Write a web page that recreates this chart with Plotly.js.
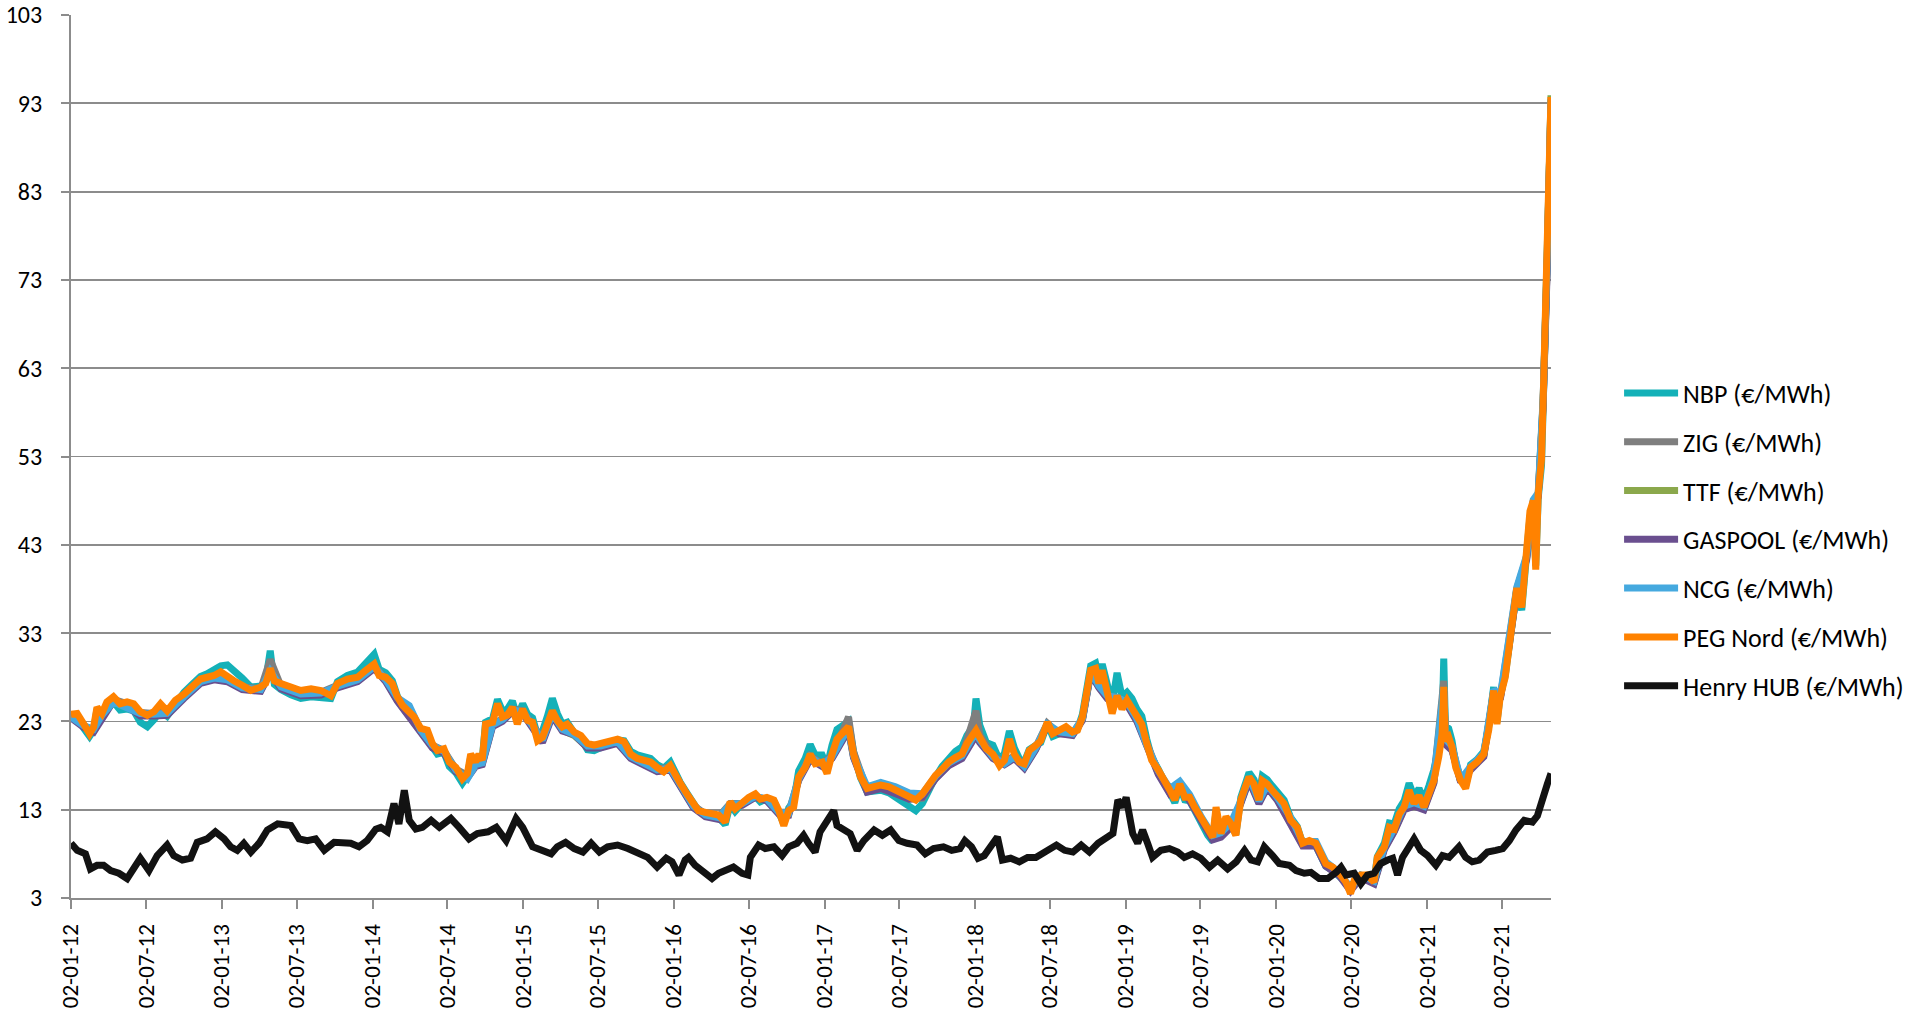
<!DOCTYPE html>
<html>
<head>
<meta charset="utf-8">
<script src="https://cdn.plot.ly/plotly-3.0.1.min.js"></script>
<style>
html,body{margin:0;padding:0;background:#fff;}
#chart{width:1914px;height:1020px;}
</style>
</head>
<body>
<div id="chart"></div>
<script>
// ---- Data ----
const dates = [
"2012-01-02","2012-01-17","2012-02-02","2012-02-16","2012-02-26","2012-03-05","2012-03-17","2012-03-29","2012-04-14","2012-04-30",
"2012-05-17","2012-06-02","2012-06-18","2012-07-05","2012-07-21","2012-08-06","2012-08-22","2012-09-11","2012-10-02","2012-10-22",
"2012-11-11","2012-11-27","2012-12-14","2012-12-30","2013-01-15","2013-01-31","2013-02-20","2013-03-13","2013-04-06","2013-04-18",
"2013-04-29","2013-05-09","2013-05-25","2013-06-18","2013-07-12","2013-08-06","2013-08-30","2013-09-23","2013-10-09","2013-11-02",
"2013-11-27","2013-12-17","2014-01-06","2014-01-18","2014-02-03","2014-02-19","2014-03-03","2014-03-16","2014-04-01","2014-04-13",
"2014-04-29","2014-05-15","2014-05-27","2014-06-08","2014-06-24","2014-07-07","2014-07-23","2014-08-08","2014-08-20","2014-08-28",
"2014-09-09","2014-09-17","2014-09-25","2014-10-03","2014-10-20","2014-11-01","2014-11-13","2014-11-25","2014-12-07","2014-12-19",
"2015-01-01","2015-01-13","2015-01-25","2015-02-06","2015-02-18","2015-03-02","2015-03-14","2015-03-26","2015-04-07","2015-04-19",
"2015-05-06","2015-05-22","2015-06-07","2015-06-23","2015-07-09","2015-07-30","2015-08-19","2015-09-04","2015-09-20","2015-10-06",
"2015-10-22","2015-11-07","2015-11-23","2015-12-09","2015-12-25","2016-01-06","2016-01-18","2016-02-03","2016-02-19","2016-03-02",
"2016-03-19","2016-04-04","2016-04-20","2016-05-06","2016-05-18","2016-05-30","2016-06-16","2016-07-02","2016-07-18","2016-07-30",
"2016-08-15","2016-09-01","2016-09-13","2016-09-25","2016-10-07","2016-10-19","2016-10-31","2016-11-16","2016-11-28","2016-12-10",
"2016-12-27","2017-01-08","2017-01-20","2017-02-01","2017-02-17","2017-03-01","2017-03-13","2017-03-30","2017-04-15","2017-05-02",
"2017-05-18","2017-06-07","2017-06-23","2017-07-10","2017-07-26","2017-08-11","2017-08-27","2017-09-12","2017-09-28","2017-10-14",
"2017-10-30","2017-11-15","2017-12-01","2017-12-13","2017-12-29","2018-01-04","2018-01-13","2018-01-29","2018-02-14","2018-03-02",
"2018-03-14","2018-03-26","2018-04-07","2018-04-19","2018-05-01","2018-05-13","2018-05-29","2018-06-10","2018-06-26","2018-07-09",
"2018-07-25","2018-08-10","2018-08-26","2018-09-07","2018-09-19","2018-10-01","2018-10-09","2018-10-21","2018-10-29","2018-11-06",
"2018-11-18","2018-11-30","2018-12-12","2018-12-24","2019-01-05","2019-01-17","2019-01-29","2019-02-10","2019-02-22","2019-03-06",
"2019-03-22","2019-04-07","2019-04-19","2019-05-01","2019-05-13","2019-05-25","2019-06-06","2019-06-18","2019-07-04","2019-07-20",
"2019-08-01","2019-08-09","2019-08-21","2019-09-02","2019-09-14","2019-09-26","2019-10-08","2019-10-16","2019-10-28","2019-11-09",
"2019-11-21","2019-11-29","2019-12-11","2019-12-23","2020-01-04","2020-01-21","2020-02-06","2020-02-22","2020-03-06","2020-03-22",
"2020-04-07","2020-04-19","2020-05-01","2020-05-18","2020-06-03","2020-06-19","2020-06-30","2020-07-09","2020-07-25","2020-08-10",
"2020-08-26","2020-09-03","2020-09-20","2020-10-02","2020-10-14","2020-10-26","2020-11-07","2020-11-19","2020-12-01","2020-12-13",
"2020-12-25","2021-01-06","2021-01-18","2021-01-30","2021-02-07","2021-02-11","2021-02-15","2021-02-23","2021-03-03","2021-03-12",
"2021-03-24","2021-04-05","2021-04-17","2021-05-03","2021-05-19","2021-05-31","2021-06-12","2021-06-20","2021-06-28","2021-07-10",
"2021-07-18","2021-07-26","2021-08-07","2021-08-19","2021-08-31","2021-09-08","2021-09-16","2021-09-22","2021-09-28","2021-10-06",
"2021-10-10","2021-10-15","2021-10-20","2021-10-29"
];

const pegNord = [
23.8,23.9,22.7,21.6,22.4,24.6,23.9,25.2,25.8,25.0,
25.2,25.0,24.1,23.7,24.1,25.0,24.2,25.4,26.1,26.9,
27.8,28.0,28.2,28.6,28.0,27.6,27.1,26.5,26.9,27.3,
29.0,27.6,27.3,26.9,26.5,26.7,26.5,25.9,27.3,27.8,
28.0,28.8,29.5,28.2,28.0,27.3,25.8,24.8,24.1,23.5,
22.2,22.0,20.5,19.7,19.9,18.4,17.8,16.5,17.1,19.3,
18.4,19.3,18.6,22.7,22.9,25.0,23.5,23.7,24.6,22.7,
24.4,23.1,22.9,20.8,21.2,22.7,24.2,23.1,22.4,22.7,
21.8,21.4,20.5,20.3,20.5,20.8,21.0,20.7,19.3,18.8,
18.6,18.4,17.8,17.3,18.0,16.8,16.0,14.8,13.7,12.9,
12.7,12.5,12.4,11.6,13.9,13.1,13.9,14.4,14.8,14.2,
14.4,14.1,12.9,11.2,12.9,13.3,16.7,17.8,19.3,18.2,
18.4,17.1,19.3,21.0,21.8,22.4,19.3,16.7,15.4,15.6,
15.8,15.6,15.2,14.8,14.6,14.1,14.8,15.9,16.9,17.6,
18.4,18.9,19.3,20.5,21.4,22.0,21.2,19.9,19.3,18.0,
18.6,21.0,19.3,18.4,18.2,19.7,20.3,20.8,22.9,21.6,
22.0,22.4,21.8,22.0,23.5,26.5,28.8,29.0,27.3,28.8,
26.1,23.9,25.9,24.4,25.4,24.6,23.5,22.7,20.5,18.6,
17.5,16.3,15.2,14.1,15.9,14.4,14.4,13.3,12.0,10.7,
9.9,13.3,10.3,12.2,11.4,10.1,14.1,15.2,16.7,15.9,
14.1,16.3,15.9,15.2,14.5,13.7,11.8,11.0,9.2,9.5,
9.2,8.2,6.9,6.5,5.8,4.8,3.5,5.0,5.6,5.6,
4.8,7.6,8.8,11.0,10.8,12.5,13.3,15.2,13.7,14.6,
13.3,14.8,16.3,19.0,21.6,26.9,20.8,21.2,20.1,17.8,
16.3,15.4,17.8,18.4,19.3,22.0,26.5,22.7,25.8,28.0,
31.4,34.4,38.1,35.9,41.7,46.8,48.0,40.2,48.8,52.7,
59.4,70.7,75.5,93.7
];

const nbp = [
23.4,23.6,22.2,21.3,22.0,24.4,23.4,24.6,25.2,24.3,
24.4,24.2,22.9,22.4,23.2,24.2,23.6,25.1,26.3,27.2,
28.1,28.4,28.8,29.3,29.4,28.8,27.9,26.9,27.0,27.6,
31.0,27.2,26.6,26.0,25.6,25.8,25.7,25.6,27.5,28.2,
28.6,29.6,30.6,28.9,28.5,27.6,25.9,24.7,24.3,23.3,
22.0,21.7,20.1,19.3,19.5,17.9,17.2,16.0,16.8,19.0,
18.2,19.2,18.7,22.9,23.3,25.5,24.2,24.4,25.3,23.5,
25.0,23.8,23.4,21.4,21.9,23.6,25.6,23.9,22.7,22.9,
21.7,21.1,19.8,19.7,20.1,20.6,20.9,20.8,19.6,19.2,
19.0,18.8,18.1,17.7,18.4,17.0,16.1,14.9,13.8,12.9,
12.6,12.4,12.1,11.3,13.6,12.8,13.7,14.2,14.5,13.9,
14.2,14.0,12.9,11.4,13.2,13.9,17.4,18.8,20.4,19.2,
19.2,17.9,20.3,22.1,22.6,23.0,19.6,16.6,15.0,15.1,
15.2,14.9,14.4,13.8,13.5,12.9,13.7,15.4,16.7,17.9,
18.9,19.6,20.1,21.4,22.5,25.6,22.6,20.6,20.3,18.6,
19.4,21.9,20.0,18.8,18.4,19.8,20.3,20.6,22.7,21.3,
21.6,22.2,21.7,22.1,23.8,27.0,29.3,29.6,28.0,29.5,
27.0,25.0,28.5,25.8,26.3,25.6,24.4,23.6,21.0,18.9,
17.6,16.2,15.0,13.8,15.6,14.1,14.0,12.9,11.6,10.1,
9.4,12.9,9.9,11.9,11.3,10.2,14.4,15.6,17.2,16.4,
14.6,16.8,16.4,15.7,15.0,14.1,12.1,11.1,9.1,9.3,
8.9,7.9,6.6,6.1,5.4,4.6,4.3,4.8,5.3,5.4,
4.9,7.7,9.2,11.5,11.4,13.1,14.0,16.0,14.5,15.4,
14.1,15.7,17.5,20.2,22.8,30.1,22.5,22.2,20.8,18.2,
16.6,15.7,18.1,18.7,19.6,22.4,26.9,22.9,26.0,28.2,
31.3,34.2,37.8,35.6,41.3,46.2,47.5,40.6,48.3,52.0,
58.6,69.5,74.8,92.8
];

// the other continental hubs, read at every second date (they sit under PEG Nord)
const hubDates = [
"2012-01-02","2012-02-02","2012-02-26","2012-03-17","2012-04-14","2012-05-17","2012-06-18","2012-07-21","2012-08-22","2012-10-02",
"2012-11-11","2012-12-14","2013-01-15","2013-02-20","2013-04-06","2013-04-29","2013-05-25","2013-07-12","2013-08-30","2013-10-09",
"2013-11-27","2014-01-06","2014-02-03","2014-03-03","2014-04-01","2014-04-29","2014-05-27","2014-06-24","2014-07-23","2014-08-20",
"2014-09-09","2014-09-25","2014-10-20","2014-11-13","2014-12-07","2015-01-01","2015-01-25","2015-02-18","2015-03-14","2015-04-07",
"2015-05-06","2015-06-07","2015-07-09","2015-08-19","2015-09-20","2015-10-22","2015-11-23","2015-12-25","2016-01-18","2016-02-19",
"2016-03-19","2016-04-20","2016-05-18","2016-06-16","2016-07-18","2016-08-15","2016-09-13","2016-10-07","2016-10-31","2016-11-28",
"2016-12-27","2017-01-20","2017-03-01","2017-03-13","2017-04-15","2017-05-18","2017-06-23","2017-07-26","2017-08-27","2017-09-28",
"2017-10-30","2017-12-01","2018-01-04","2018-01-13","2018-02-14","2018-03-14","2018-04-07","2018-05-01","2018-05-29","2018-06-26",
"2018-07-25","2018-08-26","2018-09-19","2018-10-09","2018-10-29","2018-11-18","2018-12-12","2019-01-05","2019-01-29","2019-02-22",
"2019-03-22","2019-04-19","2019-05-13","2019-06-06","2019-07-04","2019-08-01","2019-08-21","2019-09-14","2019-10-08","2019-10-28",
"2019-11-21","2019-12-11","2020-01-04","2020-02-06","2020-03-06","2020-04-07","2020-05-01","2020-06-03","2020-06-30","2020-07-25",
"2020-08-26","2020-09-20","2020-10-14","2020-11-07","2020-12-01","2020-12-25","2021-01-18","2021-02-11","2021-02-15","2021-03-03",
"2021-03-24","2021-04-17","2021-05-19","2021-06-12","2021-06-28","2021-07-18","2021-08-07","2021-08-31","2021-09-16","2021-09-28",
"2021-10-10","2021-10-20","2021-10-29"
];

const zig = [
23.6,22.5,22.0,23.6,25.5,25.0,24.0,23.9,24.0,25.9,
27.6,28.0,27.8,26.9,26.7,30.0,27.0,26.2,26.3,27.1,
27.8,29.3,27.8,25.6,23.9,22.0,20.3,19.7,17.6,16.9,
18.2,18.4,22.7,23.3,24.4,24.2,22.7,21.0,24.0,22.2,
21.6,20.3,20.3,20.8,19.1,18.4,17.6,17.8,15.8,13.5,
12.5,12.2,13.7,13.7,14.4,14.2,12.7,12.7,16.5,19.1,
18.2,19.1,23.5,19.6,15.2,15.6,15.0,14.2,14.3,16.6,
18.1,19.1,24.2,21.5,19.1,18.4,19.1,18.0,20.1,22.8,
21.6,21.6,23.3,28.6,27.1,25.9,25.7,25.2,23.3,20.3,
17.3,15.0,15.7,14.2,11.8,9.8,10.1,11.2,13.9,16.5,
13.9,15.7,14.3,11.7,9.1,9.1,6.8,5.7,4.0,5.5,
4.8,8.7,10.8,13.3,13.7,13.3,16.4,27.6,21.4,20.2,
16.2,17.7,19.2,26.4,25.7,31.3,38.0,41.6,47.9,48.7,
59.3,75.4,93.4
];

const ttf = [
23.5,22.4,21.9,23.5,25.3,24.8,23.7,23.7,23.8,25.7,
27.4,27.8,27.6,26.7,26.5,28.6,26.8,26.0,26.1,26.9,
27.6,29.1,27.6,25.4,23.7,21.8,20.1,19.5,17.4,16.7,
18.0,18.2,22.5,23.1,24.2,24.0,22.5,20.8,23.8,22.0,
21.4,20.1,20.1,20.6,18.9,18.2,17.4,17.6,15.6,13.3,
12.3,12.0,13.5,13.6,14.5,14.1,12.6,12.5,16.4,18.9,
18.0,18.9,22.2,19.0,15.1,15.5,14.9,14.3,14.5,16.6,
18.1,18.9,21.6,20.8,18.9,18.2,18.9,17.8,19.9,22.6,
21.7,21.5,23.2,28.5,26.9,25.7,25.5,25.0,23.1,20.1,
17.1,14.9,15.6,14.1,11.7,9.7,10.0,11.1,13.8,16.4,
13.8,15.6,14.2,11.6,9.0,9.0,6.7,5.6,3.9,5.4,
4.7,8.6,10.6,13.1,13.5,13.1,16.1,26.6,20.5,19.8,
16.2,17.6,19.1,26.3,25.6,31.2,37.9,41.5,47.8,48.6,
59.2,75.3,93.9
];

const gaspool = [
23.4,22.3,21.8,23.4,25.3,24.7,23.6,23.6,23.7,25.6,
27.3,27.7,27.5,26.6,26.4,28.5,26.7,25.9,26.0,26.8,
27.5,29.0,27.5,25.3,23.6,21.7,20.0,19.4,17.3,16.6,
17.9,18.1,22.4,23.0,24.1,23.9,22.2,20.6,23.6,21.9,
21.5,20.0,20.0,20.5,18.8,18.1,17.3,17.5,15.5,13.2,
12.2,11.9,13.4,13.5,14.4,14.0,12.5,12.4,16.3,18.7,
17.9,18.8,22.0,18.9,15.0,15.4,14.8,14.2,14.4,16.5,
18.0,18.8,21.4,20.6,18.8,18.1,18.8,17.7,19.8,22.6,
21.6,21.4,23.1,28.4,26.8,25.6,25.4,24.9,23.0,20.0,
17.0,14.8,15.5,14.0,11.6,9.6,9.9,11.0,13.7,16.3,
13.7,15.5,14.1,11.5,8.9,8.9,6.6,5.5,3.8,5.3,
4.6,8.5,10.5,13.0,13.4,13.0,16.0,26.4,20.4,19.7,
16.1,17.5,19.0,26.2,25.5,31.1,37.7,41.3,47.6,48.4,
58.9,74.6,92.8
];

const ncg = [
23.5,22.5,22.1,23.7,25.2,24.6,23.9,23.8,23.9,25.8,
27.5,27.9,27.7,26.8,26.6,28.7,26.9,26.1,26.2,27.0,
27.7,29.2,27.7,25.7,24.8,22.0,20.3,19.6,17.5,16.5,
18.1,18.3,22.6,23.2,24.3,24.1,22.6,20.9,23.9,22.1,
21.5,20.2,20.2,20.7,19.0,18.3,17.5,17.7,15.7,13.4,
12.4,12.1,13.6,13.7,14.5,14.2,12.7,12.6,16.5,19.0,
18.1,19.0,22.3,19.1,15.6,16.1,15.6,14.9,14.8,16.8,
18.3,19.1,21.8,20.9,19.0,18.2,19.0,17.9,20.0,22.7,
21.8,21.6,23.3,28.6,27.0,25.9,25.7,25.2,23.3,20.3,
17.4,15.4,16.2,14.7,12.2,10.1,10.4,11.5,14.0,16.7,
14.0,15.8,14.4,12.1,9.4,9.4,7.1,5.9,4.1,5.6,
4.9,8.8,10.9,13.4,13.8,13.4,16.5,26.8,21.0,20.2,
16.4,17.9,19.4,26.6,25.9,31.5,38.2,41.8,48.1,48.9,
59.6,76.0,93.5
];

const hhDates = [
"2012-01-02","2012-01-17","2012-02-06","2012-02-18","2012-03-05","2012-03-21","2012-04-07","2012-04-27","2012-05-17","2012-06-02",
"2012-06-18","2012-07-09","2012-07-29","2012-08-22","2012-09-07","2012-09-28","2012-10-18","2012-11-03","2012-11-27","2012-12-17",
"2013-01-07","2013-01-23","2013-02-08","2013-02-24","2013-03-13","2013-04-02","2013-04-22","2013-05-17","2013-06-02","2013-06-18",
"2013-07-08","2013-07-28","2013-08-17","2013-09-07","2013-10-01","2013-10-21","2013-11-10","2013-11-30","2013-12-20","2014-01-10",
"2014-01-22","2014-02-07","2014-02-23","2014-03-07","2014-03-20","2014-04-01","2014-04-17","2014-05-03","2014-05-24","2014-06-13",
"2014-07-11","2014-07-31","2014-08-24","2014-09-13","2014-10-09","2014-10-29","2014-11-22","2014-12-16","2015-01-01","2015-01-25",
"2015-02-18","2015-03-11","2015-03-26","2015-04-15","2015-05-06","2015-05-27","2015-06-16","2015-07-06","2015-07-26","2015-08-19",
"2015-09-13","2015-10-06","2015-10-31","2015-11-23","2015-12-15","2015-12-29","2016-01-15","2016-01-30","2016-02-07","2016-02-23",
"2016-03-15","2016-04-04","2016-04-20","2016-05-10","2016-05-26","2016-06-16","2016-06-30","2016-07-06","2016-07-26","2016-08-11",
"2016-09-01","2016-09-21","2016-10-07","2016-10-27","2016-11-12","2016-11-24","2016-12-10","2016-12-22","2017-01-08","2017-01-24",
"2017-02-01","2017-02-17","2017-03-05","2017-03-22","2017-04-07","2017-05-02","2017-05-22","2017-06-11","2017-07-01","2017-07-21",
"2017-08-14","2017-09-03","2017-09-23","2017-10-17","2017-11-06","2017-11-26","2017-12-08","2017-12-24","2018-01-09","2018-01-24",
"2018-02-09","2018-02-25","2018-03-09","2018-03-29","2018-04-19","2018-05-09","2018-05-29","2018-06-18","2018-07-18","2018-08-07",
"2018-08-27","2018-09-16","2018-10-06","2018-10-27","2018-11-12","2018-12-02","2018-12-14","2018-12-26","2019-01-03","2019-01-11",
"2019-01-19","2019-01-31","2019-02-12","2019-02-24","2019-03-08","2019-03-28","2019-04-18","2019-05-08","2019-05-24","2019-06-13",
"2019-07-03","2019-07-24","2019-08-13","2019-09-06","2019-09-27","2019-10-17","2019-11-02","2019-11-18","2019-12-04","2019-12-24",
"2020-01-09","2020-02-03","2020-02-19","2020-03-10","2020-03-26","2020-04-15","2020-05-06","2020-05-26","2020-06-07","2020-06-19",
"2020-07-09","2020-07-25","2020-08-10","2020-08-26","2020-09-11","2020-09-28","2020-10-10","2020-10-22","2020-11-03","2020-11-19",
"2020-12-01","2020-12-17","2021-01-03","2021-01-23","2021-02-08","2021-02-24","2021-03-20","2021-04-05","2021-04-21","2021-05-08",
"2021-05-28","2021-06-17","2021-07-04","2021-07-20","2021-08-05","2021-08-25","2021-09-14","2021-09-26","2021-10-04","2021-10-12",
"2021-10-20","2021-10-29"
];

const henryHub = [
9.2,8.4,8.0,6.3,6.7,6.7,6.1,5.8,5.2,6.5,
7.5,6.1,7.8,9.0,7.8,7.3,7.5,9.3,9.7,10.5,
9.7,8.8,8.4,9.2,8.2,9.2,10.7,11.4,11.2,11.2,
9.7,9.5,9.7,8.4,9.3,9.3,9.2,8.8,9.5,10.8,
11.0,10.5,13.7,11.4,15.2,11.8,10.8,11.0,11.8,11.0,
12.0,11.0,9.7,10.3,10.5,11.0,9.5,12.0,11.0,8.8,
8.4,8.0,8.8,9.3,8.6,8.2,9.2,8.2,8.8,9.0,
8.6,8.2,7.6,6.5,7.5,7.1,5.6,7.3,7.6,6.7,
5.9,5.2,5.8,6.1,6.5,5.8,5.6,7.6,9.0,8.6,
8.8,7.8,8.8,9.2,10.1,9.2,8.2,10.5,11.8,12.9,
11.2,10.7,10.3,8.4,9.5,10.7,10.1,10.7,9.5,9.2,
9.0,8.0,8.6,8.8,8.4,8.6,9.5,8.8,7.5,7.8,
8.8,9.9,7.3,7.5,7.1,7.6,7.6,8.2,9.0,8.4,
8.2,9.0,8.2,9.2,9.7,10.3,14.1,13.3,14.4,12.5,
10.3,9.2,10.7,9.2,7.6,8.4,8.6,8.2,7.6,8.0,
7.5,6.5,7.3,6.3,7.1,8.4,7.3,7.1,8.8,7.8,
6.9,6.7,6.1,5.8,5.9,5.2,5.2,5.9,6.5,5.6,
5.8,4.6,5.6,5.8,6.9,7.3,7.5,5.6,7.6,8.8,
9.7,8.4,7.8,6.7,7.8,7.6,8.8,7.6,7.1,7.3,
8.2,8.4,8.6,9.5,10.7,11.8,11.6,12.3,13.7,14.8,
15.9,17.1
];

const seriesNames = ["NBP (€/MWh)","ZIG (€/MWh)","TTF (€/MWh)","GASPOOL (€/MWh)","NCG (€/MWh)","PEG Nord (€/MWh)","Henry HUB (€/MWh)"];
const seriesColors = ["#14b1b8","#7f7f7f","#8ba84c","#6a4f8f","#45a9df","#ff8200","#121212"];
const yTicks = [3,13,23,33,43,53,63,73,83,93,103];

const seriesX = [dates, hubDates, hubDates, hubDates, hubDates, dates, hhDates];
const seriesY = [nbp, zig, ttf, gaspool, ncg, pegNord, henryHub];

const FONT = "Carlito, Lato, 'Open Sans', sans-serif";

const traces = seriesNames.map((name, i) => ({
  type: "scatter",
  mode: "lines",
  name: name,
  x: seriesX[i],
  y: seriesY[i],
  legendgroup: "g" + i,
  line: {color: seriesColors[i], width: 7, shape: "linear"},
  hoverinfo: "skip"
}));

const layout = {
  width: 1914,
  height: 1020,
  paper_bgcolor: "#ffffff",
  plot_bgcolor: "#ffffff",
  margin: {l: 71, r: 363, t: 15, b: 122, pad: 0, autoexpand: false},
  font: {family: FONT, size: 22, color: "#000000"},
  showlegend: true,
  hovermode: false,
  xaxis: {
    type: "date",
    range: ["2012-01-02", "2021-10-29"],
    tick0: "2012-01-02",
    dtick: "M6",
    tickformat: "%d-%m-%y",
    tickangle: -90,
    ticks: "outside",
    ticklen: 9,
    tickwidth: 2,
    tickcolor: "#8c8c8c",
    ticklabelstandoff: 6,
    showline: true,
    linecolor: "#8c8c8c",
    linewidth: 2,
    showgrid: false,
    zeroline: false,
    automargin: false,
    tickfont: {family: FONT, size: 23, color: "#000000"}
  },
  yaxis: {
    range: [3, 103],
    tickmode: "array",
    tickvals: yTicks,
    ticktext: yTicks.map(String),
    ticks: "outside",
    ticklen: 8,
    tickwidth: 2,
    tickcolor: "#8c8c8c",
    ticklabelstandoff: 14,
    showline: true,
    linecolor: "#8c8c8c",
    linewidth: 2,
    showgrid: true,
    gridcolor: "#8c8c8c",
    gridwidth: 1.8,
    zeroline: false,
    automargin: false,
    tickfont: {family: FONT, size: 24, color: "#000000"}
  },
  legend: {
    x: 1.046,
    xanchor: "left",
    y: 0.406,
    yanchor: "middle",
    traceorder: "grouped",
    tracegroupgap: 12,
    itemwidth: 54,
    font: {family: FONT, size: 26, color: "#000000"},
    bgcolor: "rgba(0,0,0,0)",
    borderwidth: 0
  }
};

Plotly.newPlot("chart", traces, layout, {displayModeBar: false, staticPlot: true});
</script>
</body>
</html>
